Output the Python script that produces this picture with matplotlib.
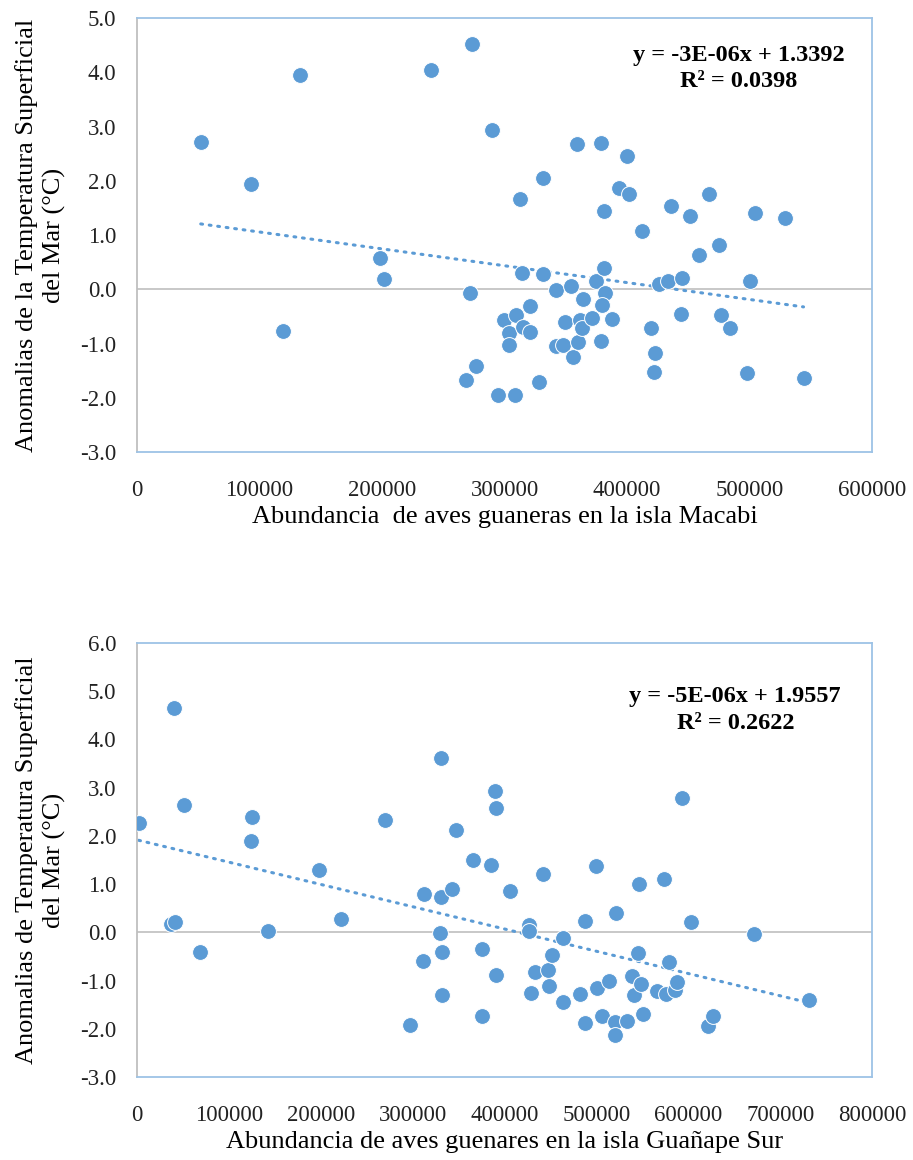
import numpy as np
import matplotlib
matplotlib.use("Agg")
import matplotlib.pyplot as plt

# --- data ---
# top panel: Macabi
macabi_birds = [52000, 93300, 119000, 133300, 198000, 201500, 239700, 273400, 271700, 268500,
                276700, 290100, 294700, 299700, 303800, 303800, 309500, 312300, 314000, 308700,
                314900, 320400, 320800, 331100, 331100, 328100, 341800, 354400, 349200, 341800,
                347800, 355500, 358800, 359900, 361500, 362900, 363700, 371400, 374400, 378700,
                381000, 381000, 381800, 379600, 378500, 388100, 393300, 399800, 401500, 412400,
                419800, 422800, 421700, 425800, 433500, 435700, 443900, 445200, 451300, 458700,
                467200, 475400, 476400, 484100, 497800, 500600, 504100, 529300, 544100]
macabi_tsm = [2.71, 1.94, -0.77, 3.96, 0.57, 0.19, 4.04, 4.53, -0.06, -1.68,
              -1.42, 2.93, -1.94, -0.57, -0.80, -1.03, -0.48, 1.67, 0.30, -1.94,
              -0.69, -0.79, -0.31, 2.05, 0.28, -1.71, -0.01, 0.06, -0.60, -1.05,
              -1.03, -1.25, 2.67, -0.98, -0.56, -0.71, -0.17, -0.53, 0.16, 2.69,
              1.44, 0.39, -0.07, -0.29, -0.95, -0.55, 1.86, 2.45, 1.76, 1.07,
              -0.71, -1.17, -1.52, 0.09, 0.16, 1.54, -0.46, 0.20, 1.35, 0.63,
              1.75, 0.82, -0.48, -0.71, -1.54, 0.16, 1.41, 1.31, -1.63]

# bottom panel: Guañape Sur
guanape_birds = [1800, 36800, 41600, 39800, 51400, 68200, 124400, 125500, 142300, 198500,
                 222200, 270300, 296900, 310800, 312300, 329400, 330500, 330500, 331600, 331600,
                 343300, 347300, 365500, 375000, 375400, 385200, 390000, 391000, 390700, 406400,
                 426100, 426100, 429000, 433000, 441400, 447300, 448700, 451600, 464000, 464000,
                 482300, 487800, 488100, 499400, 500500, 505900, 513300, 520200, 520200, 521700,
                 533000, 538400, 541300, 545300, 546800, 548300, 550800, 566200, 573100, 576000,
                 579300, 585200, 587700, 593200, 603000, 621300, 626800, 671600, 731000]
guanape_tsm = [2.27, 0.18, 0.21, 4.65, 2.63, -0.40, 1.90, 2.39, 0.02, 1.30,
               0.28, 2.33, -1.92, -0.59, 0.79, -0.02, 3.61, 0.74, -0.40, -1.31,
               0.90, 2.13, 1.49, -0.35, -1.73, 1.40, 2.92, 2.58, -0.88, 0.85,
               0.16, 0.02, -1.26, -0.83, 1.21, -0.78, -1.12, -0.48, -0.11, -1.44,
               -1.28, -1.89, 0.24, 1.38, -1.15, -1.73, -1.01, -1.86, -2.13, 0.40,
               -1.84, -0.90, -1.31, -0.43, 1.01, -1.07, -1.70, -1.21, 1.11, -1.28,
               -0.61, -1.19, -1.03, 2.78, 0.21, -1.95, -1.73, -0.03, -1.41]

top_eq = "y = -3E-06x + 1.3392\nR² = 0.0398"
bot_eq = "y = -5E-06x + 1.9557\nR² = 0.2622"

BLUE = "#5B9BD5"
FRAME = "#9DC3E6"
GREY = "#BFBFBF"

plt.rcParams['font.family'] = ['Liberation Serif', 'DejaVu Serif']

fig = plt.figure(figsize=(9.13, 11.6), dpi=100)
ax1 = fig.add_axes([0.1501, 0.6103, 0.805, 0.3741])
ax2 = fig.add_axes([0.1501, 0.0716, 0.805, 0.3741])


def draw_panel(ax, x, y, xmax, ymin, ymax, xlabel, ylabel, eq, eq_pos):
    x = np.array(x, dtype=float)
    y = np.array(y, dtype=float)
    ax.axhline(0, color=GREY, lw=1.2, zorder=1)
    ax.scatter(x, y, s=130, color=BLUE, edgecolor='white', linewidth=0.7, zorder=3)
    # linear trend like excel
    m, b = np.polyfit(x, y, 1)
    xs = np.array([x.min(), x.max()])
    ax.plot(xs, m * xs + b, color=BLUE, lw=2.2, linestyle=(0, (0.6, 2.2)),
            dash_capstyle='round', zorder=2)
    ax.set_xlim(0, xmax)
    ax.set_ylim(ymin, ymax)
    ax.set_xticks(np.arange(0, xmax + 1, 100000))
    ax.set_xticklabels([str(v) for v in range(0, xmax + 1, 100000)])
    yt = np.arange(ymin, ymax + 0.01, 1.0)
    ax.set_yticks(yt)
    ax.set_yticklabels(["%.1f" % v for v in yt])
    ax.tick_params(length=0, labelsize=16.5, colors='#222222')
    ax.tick_params(axis='x', pad=20)
    ax.tick_params(axis='y', pad=15)
    for s in ['top', 'right', 'bottom']:
        ax.spines[s].set_color(FRAME)
        ax.spines[s].set_linewidth(1.3)
    ax.spines['left'].set_color(GREY)
    ax.spines['left'].set_linewidth(1.3)
    ax.set_xlabel(xlabel, fontsize=19, labelpad=4)
    ax.set_ylabel(ylabel, fontsize=19, labelpad=10, linespacing=1.3)
    ax.text(eq_pos[0], eq_pos[1], eq, transform=ax.transAxes, ha='center', va='center',
            fontsize=17.5, fontweight='bold', linespacing=1.35)


draw_panel(ax1, macabi_birds, macabi_tsm, 600000, -3.0, 5.0,
           "Abundancia  de aves guaneras en la isla Macabi",
           "Anomalias de la Temperatura Superficial\ndel Mar (°C)",
           top_eq, (0.819, 0.884))
draw_panel(ax2, guanape_birds, guanape_tsm, 800000, -3.0, 6.0,
           "Abundancia de aves guenares en la isla Guañape Sur",
           "Anomalias de Temperatura Superficial\ndel Mar (°C)",
           bot_eq, (0.814, 0.845))

fig.savefig("out.png", dpi=100, facecolor='white')
